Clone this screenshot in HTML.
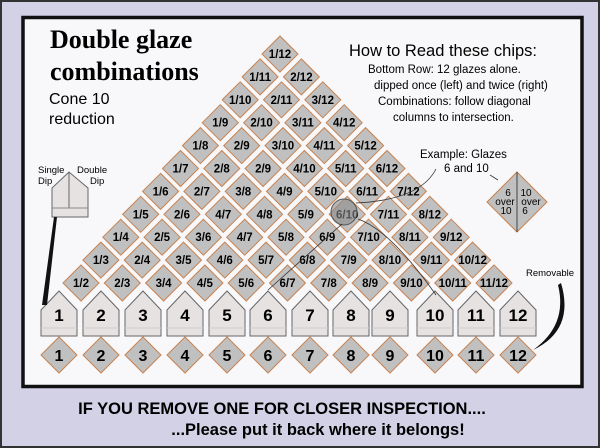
<!DOCTYPE html>
<html><head><meta charset="utf-8"><style>
html,body{margin:0;padding:0;background:#d3d1e6;}
svg{display:block;font-family:"Liberation Sans",sans-serif;}
</style></head><body>
<svg width="600" height="448" viewBox="0 0 600 448" xmlns="http://www.w3.org/2000/svg">
<rect x="1" y="1" width="598" height="446" fill="#d3d1e6" stroke="#333" stroke-width="2"/>
<rect x="23" y="17.5" width="559" height="369" fill="#f8f8fa" stroke="#111" stroke-width="3.5"/>
<text x="50" y="48" font-family="Liberation Serif,serif" font-weight="bold" font-size="26">Double glaze</text>
<text x="50" y="80" font-family="Liberation Serif,serif" font-weight="bold" font-size="26">combinations</text>
<text x="49" y="104" font-size="16">Cone 10</text>
<text x="49" y="124" font-size="16">reduction</text>
<text x="349" y="56" font-size="16.5">How to Read these chips:</text>
<g font-size="11.5">
<text x="368" y="73">Bottom Row: 12 glazes alone.</text>
<text x="374" y="89">dipped once (left) and twice (right)</text>
<text x="378" y="105">Combinations: follow diagonal</text>
<text x="393" y="121">columns to intersection.</text>
</g>
<g id="pyr" font-weight="bold" font-size="11.5" text-anchor="middle"></g>
<g id="houses"></g>
<circle cx="344" cy="212" r="13" fill="#8a8a8a" fill-opacity="0.6" stroke="#555"/>
<path d="M436 169 Q420 200 356 203" fill="none" stroke="#333" stroke-width="0.8"/>
<path d="M358 219 Q390 230 436 295" fill="none" stroke="#333" stroke-width="0.8"/>
<path d="M342 224 L268 290" fill="none" stroke="#333" stroke-width="0.8"/>
<text x="420" y="158" font-size="11.5">Example: Glazes</text>
<text x="444" y="172" font-size="11.5">6 and 10</text>
<line x1="490" y1="175" x2="498" y2="180" stroke="#333" stroke-width="0.8"/>
<polygon points="517,172 547,202 517,232 487,202" fill="#c0c0c0" stroke="#c8824f"/>
<line x1="517" y1="172" x2="517" y2="232" stroke="#444"/>
<g font-size="10" text-anchor="middle">
<text x="508" y="196">6</text><text x="505" y="205">over</text><text x="506" y="214">10</text>
<text x="526" y="196">10</text><text x="531" y="205">over</text><text x="525" y="214">6</text>
</g>
<text x="526" y="276" font-size="9.5">Removable</text>
<path d="M561 283 Q575 330 533 350 Q568 325 558 285 Z" fill="#111"/>
<text x="38" y="173" font-size="9.5">Single</text><text x="38" y="184" font-size="9.5">Dip</text>
<text x="77" y="173" font-size="9.5">Double</text><text x="90" y="184" font-size="9.5">Dip</text>
<polygon points="52,188 69,172 88,188 88,217 52,217" fill="#e6e2e2" stroke="#666"/>
<line x1="69" y1="172" x2="69" y2="208" stroke="#666"/>
<line x1="52" y1="208" x2="88" y2="208" stroke="#888"/>
<polygon points="54,217 57,217 47,305 42,305" fill="#111"/>
<text x="282" y="414" font-size="16.5" font-weight="bold" text-anchor="middle">IF YOU REMOVE ONE FOR CLOSER INSPECTION....</text>
<text x="318" y="435" font-size="16.5" font-weight="bold" text-anchor="middle">...Please put it back where it belongs!</text>
</svg>
<script>
(function(){
var ns="http://www.w3.org/2000/svg";
function el(t,a,p){var e=document.createElementNS(ns,t);for(var k in a)e.setAttribute(k,a[k]);p.appendChild(e);return e;}
var pyr=document.getElementById("pyr");
var rows={1:["1/2","2/3","3/4","4/5","5/6","6/7","7/8","8/9","9/10","10/11","11/12"],
2:["1/3","2/4","3/5","4/6","5/7","6/8","7/9","8/10","9/11","10/12"],
3:["1/4","2/5","3/6","4/7","5/8","6/9","7/10","8/11","9/12"],
4:["1/5","2/6","4/7","4/8","5/9","6/10","7/11","8/12"],
5:["1/6","2/7","3/8","4/9","5/10","6/11","7/12"],
6:["1/7","2/8","2/9","4/10","5/11","6/12"],
7:["1/8","2/9","3/10","4/11","5/12"],
8:["1/9","2/10","3/11","4/12"],
9:["1/10","2/11","3/12"],
10:["1/11","2/12"],
11:["1/12"]};
var h=18;
for(var r=1;r<=11;r++){rows[r].forEach(function(lbl,i){
var x=81+(r-1)*19.9+i*41.3, y=283-(r-1)*22.9;
el("polygon",{points:(x)+","+(y-h)+" "+(x+h)+","+y+" "+x+","+(y+h)+" "+(x-h)+","+y,fill:"#c0c0c0",stroke:"#c8824f","stroke-width":1},pyr);
var t=el("text",{x:x,y:y+4},pyr);t.textContent=lbl;});}
var hs=document.getElementById("houses");
var cx=[59,101,143,185,227,268,310,351,390,435,476,518];
cx.forEach(function(x,i){
el("polygon",{points:(x-18)+",310 "+x+",291 "+(x+18)+",310 "+(x+18)+",336 "+(x-18)+",336",fill:"#e6e2e2",stroke:"#666"},hs);
el("line",{x1:x-18,y1:328,x2:x+18,y2:328,stroke:"#ccc"},hs);
var t=el("text",{x:x,y:321,"font-size":17,"font-weight":"bold","text-anchor":"middle"},hs);t.textContent=i+1;
var y=355,d=18;
el("polygon",{points:x+","+(y-d)+" "+(x+d)+","+y+" "+x+","+(y+d)+" "+(x-d)+","+y,fill:"#c0c0c0",stroke:"#c8824f"},hs);
var t2=el("text",{x:x,y:y+6,"font-size":16,"font-weight":"bold","text-anchor":"middle"},hs);t2.textContent=i+1;
});
})();
</script>
</body></html>
